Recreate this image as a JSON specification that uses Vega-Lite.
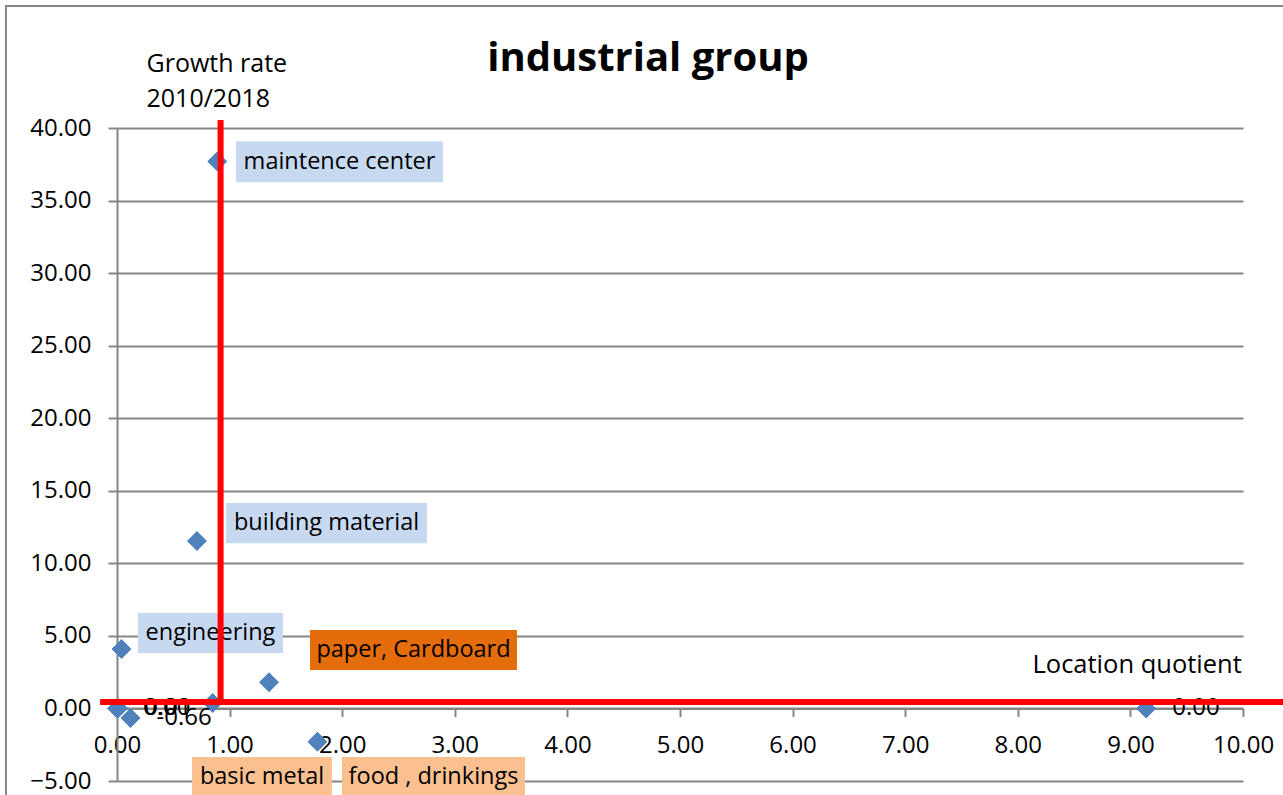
{
  "$schema": "https://vega.github.io/schema/vega-lite/v6.json",
  "width": 1126,
  "height": 653,
  "autosize": {"type": "none"},
  "padding": {"left": 117, "top": 128, "right": 40, "bottom": 14},
  "background": "white",
  "config": {"view": {"stroke": null}, "font": "Open Sans"},
  "title": {
    "text": "industrial group",
    "fontSize": 40,
    "fontWeight": "bold",
    "font": "Open Sans",
    "color": "#000000",
    "anchor": "middle",
    "frame": "group",
    "dx": -32,
    "dy": 78
  },
  "datasets": {
    "points": [
      {"lq": 0.04, "gr": 4.09, "lbl": ""},
      {"lq": 0.89, "gr": 37.7, "lbl": ""},
      {"lq": 0.71, "gr": 11.54, "lbl": ""},
      {"lq": 1.35, "gr": 1.80, "lbl": ""},
      {"lq": 1.78, "gr": -2.29, "lbl": ""},
      {"lq": 0.85, "gr": 0.37, "lbl": ""},
      {"lq": 0.00, "gr": 0.00, "lbl": "0.00"},
      {"lq": 0.01, "gr": 0.01, "lbl": "0.01"},
      {"lq": 0.12, "gr": -0.66, "lbl": "-0.66"},
      {"lq": 9.14, "gr": 0.00, "lbl": "0.00"}
    ],
    "tags": [
      {"name": "maintence center", "cls": "blue", "x1": 1.057, "x2": 2.895, "y1": 39.09, "y2": 36.27, "cx": 1.976, "cy": 37.68},
      {"name": "building material", "cls": "blue", "x1": 0.968, "x2": 2.753, "y1": 14.15, "y2": 11.39, "cx": 1.861, "cy": 12.77},
      {"name": "engineering", "cls": "blue", "x1": 0.186, "x2": 1.474, "y1": 6.57, "y2": 3.82, "cx": 0.830, "cy": 5.19},
      {"name": "paper, Cardboard", "cls": "orange", "x1": 1.714, "x2": 3.552, "y1": 5.40, "y2": 2.65, "cx": 2.633, "cy": 4.03},
      {"name": "basic metal", "cls": "peach", "x1": 0.666, "x2": 1.909, "y1": -3.35, "y2": -6.11, "cx": 1.288, "cy": -4.73},
      {"name": "food , drinkings", "cls": "peach", "x1": 1.998, "x2": 3.623, "y1": -3.35, "y2": -6.11, "cx": 2.811, "cy": -4.73}
    ],
    "guides": [
      {"x1": 0.92, "x2": 0.92, "y1": 0.44, "y2": 40.55},
      {"x1": -0.15, "x2": 10.45, "y1": 0.44, "y2": 0.44}
    ],
    "frame": [
      {"x1": -0.986, "x2": 10.5, "y1": 48.4, "y2": -6.6}
    ]
  },
  "layer": [
    {
      "data": {"name": "points"},
      "mark": {"type": "point", "shape": "diamond", "filled": true, "size": 380, "color": "#4f81bd", "opacity": 1, "clip": false},
      "encoding": {
        "x": {
          "field": "lq", "type": "quantitative",
          "scale": {"domain": [0, 10], "nice": false, "zero": false},
          "axis": {
            "title": "Location quotient",
            "titleX": 915, "titleY": -44, "titleAlign": "left", "titleBaseline": "middle", "titleAngle": 0,
            "titleFontSize": 25.5, "titleFontWeight": "normal", "titleFont": "Open Sans", "titleColor": "#000000",
            "offset": -72.56,
            "values": [0, 1, 2, 3, 4, 5, 6, 7, 8, 9, 10],
            "format": ".2f",
            "grid": false,
            "domainColor": "#868686", "domainWidth": 2,
            "tickColor": "#868686", "tickWidth": 2, "tickSize": 8,
            "labelFontSize": 24, "labelFont": "Open Sans", "labelColor": "#000000", "labelPadding": 17,
            "labelFlush": false, "labelOverlap": false
          }
        },
        "y": {
          "field": "gr", "type": "quantitative",
          "scale": {"domain": [-5, 40], "nice": false, "zero": false},
          "axis": {
            "title": ["Growth rate", "2010/2018"],
            "titleX": 29, "titleY": -77, "titleAlign": "left", "titleBaseline": "top", "titleAngle": 0,
            "titleFontSize": 25, "titleFontWeight": "normal", "titleFont": "Open Sans", "titleColor": "#000000",
            "titleLineHeight": 35,
            "values": [-5, 0, 5, 10, 15, 20, 25, 30, 35, 40],
            "format": ".2f",
            "grid": true, "gridColor": "#868686", "gridWidth": 2,
            "domainColor": "#868686", "domainWidth": 2,
            "tickColor": "#868686", "tickWidth": 2, "tickSize": 9,
            "labelFontSize": 24, "labelFont": "Open Sans", "labelColor": "#000000", "labelPadding": 17,
            "labelFlush": false, "labelOverlap": false
          }
        }
      }
    },
    {
      "data": {"name": "frame"},
      "mark": {"type": "rect", "fill": null, "stroke": "#868686", "strokeWidth": 2, "clip": false},
      "encoding": {
        "x": {"field": "x1", "type": "quantitative"},
        "x2": {"field": "x2"},
        "y": {"field": "y1", "type": "quantitative"},
        "y2": {"field": "y2"}
      }
    },
    {
      "data": {"name": "tags"},
      "mark": {"type": "rect", "clip": false, "opacity": 1},
      "encoding": {
        "x": {"field": "x1", "type": "quantitative"},
        "x2": {"field": "x2"},
        "y": {"field": "y1", "type": "quantitative"},
        "y2": {"field": "y2"},
        "color": {
          "field": "cls", "type": "nominal",
          "scale": {"domain": ["blue", "orange", "peach"], "range": ["#c6d9f1", "#e46c0a", "#fac090"]},
          "legend": null
        }
      }
    },
    {
      "data": {"name": "tags"},
      "mark": {"type": "text", "fontSize": 23.5, "font": "Open Sans", "color": "#000000", "align": "center", "baseline": "middle", "clip": false},
      "encoding": {
        "x": {"field": "cx", "type": "quantitative"},
        "y": {"field": "cy", "type": "quantitative"},
        "text": {"field": "name"}
      }
    },
    {
      "data": {"name": "points"},
      "mark": {"type": "point", "shape": "diamond", "filled": true, "size": 380, "color": "#4f81bd", "opacity": 1, "clip": false},
      "encoding": {
        "x": {"field": "lq", "type": "quantitative"},
        "y": {"field": "gr", "type": "quantitative"}
      }
    },
    {
      "data": {"name": "points"},
      "mark": {"type": "text", "fontSize": 24, "font": "Open Sans", "color": "#000000", "align": "left", "baseline": "middle", "dx": 26, "clip": false},
      "encoding": {
        "x": {"field": "lq", "type": "quantitative"},
        "y": {"field": "gr", "type": "quantitative"},
        "text": {"field": "lbl"}
      }
    },
    {
      "data": {"name": "guides"},
      "mark": {"type": "rule", "color": "#ff0000", "strokeWidth": 6, "clip": false},
      "encoding": {
        "x": {"field": "x1", "type": "quantitative"},
        "x2": {"field": "x2"},
        "y": {"field": "y1", "type": "quantitative"},
        "y2": {"field": "y2"}
      }
    }
  ]
}
